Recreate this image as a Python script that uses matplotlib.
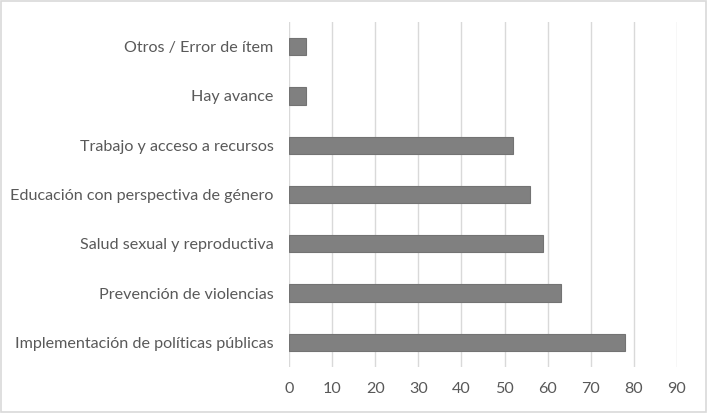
import matplotlib.pyplot as plt
import matplotlib.ticker as mticker
from matplotlib.patches import Rectangle

# datos (de abajo hacia arriba)
categorias = ["Implementación de políticas públicas",
              "Prevención de violencias",
              "Salud sexual y reproductiva",
              "Educación con perspectiva de género",
              "Trabajo y acceso a recursos",
              "Hay avance",
              "Otros / Error de ítem"]
valores = [78, 63, 59, 56, 52, 4, 4]
xticks = list(range(0, 100, 10))

plt.rcParams['font.family'] = ['Lato', 'DejaVu Sans']
txt_color = "#595959"

fig = plt.figure(figsize=(7.07, 4.13), dpi=100)
ax = fig.add_axes([289 / 707, 1 - 367 / 413, (677 - 289) / 707, (367 - 22) / 413])

pos = list(range(len(categorias)))
ax.barh(pos, valores, height=0.35, color="#808080", edgecolor="#737373", linewidth=0.8, zorder=3)

ax.set_xlim(0, 90)
ax.set_ylim(-0.5, len(categorias) - 0.5)
ax.set_xticks(xticks)
ax.set_yticks(pos)
ax.set_yticklabels(categorias)
ax.xaxis.grid(True, color="#d9d9d9", linewidth=1.0, zorder=0)
ax.set_axisbelow(True)
for s in ax.spines.values():
    s.set_visible(False)
ax.tick_params(axis='x', length=0, pad=11, labelsize=11.6, labelcolor=txt_color)
ax.tick_params(axis='y', length=0, pad=11, labelsize=11.6, labelcolor=txt_color)

# borde del gráfico
fig.patches.append(Rectangle((0.001, 0.002), 0.997, 0.995, transform=fig.transFigure,
                             fill=False, edgecolor="#d9d9d9", linewidth=1.2))

plt.savefig("out.png", dpi=100)
plt.close()
